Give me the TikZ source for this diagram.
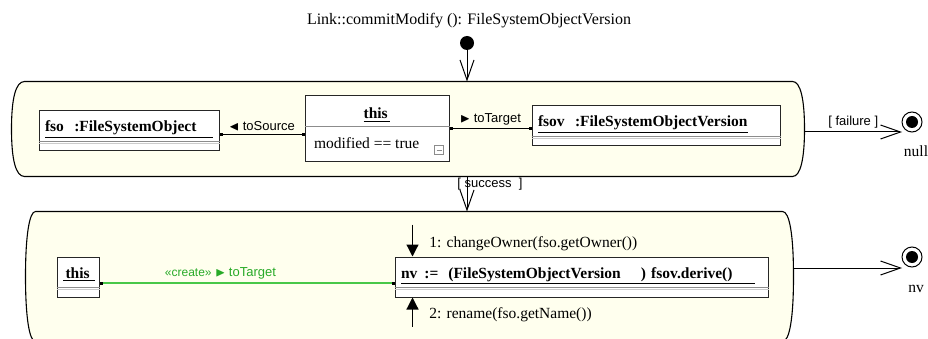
\documentclass[tikz,border=0pt]{standalone}
\usepackage{fontspec}
\setmainfont{Liberation Serif}
\setsansfont{Liberation Sans}
\usepackage{amssymb}
\usepackage{xcolor}
\usepackage{tikz}
\usetikzlibrary{shapes,arrows.meta,positioning,calc}

\definecolor{actfill}{RGB}{255,255,238}
\definecolor{createline}{RGB}{72,200,72}
\definecolor{createtext}{RGB}{40,170,40}

\begin{document}
\begin{tikzpicture}[x=1pt, y=-1pt, line width=1pt, font=\fontsize{15.5}{18}\selectfont]
    % Define styles
    \tikzstyle{activity} = [rectangle, draw=none, inner sep=0pt]
    \tikzstyle{actline} = [draw=black, fill=actfill, line width=1.1pt]
    \tikzstyle{object} = [rectangle, draw=black!85, fill=white, inner xsep=6pt, inner ysep=0pt, text height=21pt, text depth=19pt, align=left]
    \tikzstyle{sepline} = [draw=black!45, line width=0.8pt]
    \tikzstyle{link} = [draw=black, {Square[length=3pt,width=3pt]}-{Square[length=3pt,width=3pt]}]
    \tikzstyle{createlink} = [draw=createline, line width=1.2pt, {Square[length=3pt,width=3pt,color=black]}-{Square[length=3pt,width=3pt,color=black]}]
    \tikzstyle{trans} = [draw=black, -{Straight Barb[length=20pt,width=14pt]}]
    \tikzstyle{msg} = [draw=black, line width=1.2pt, -{Triangle[length=12pt,width=12pt]}]
    \tikzstyle{lbl} = [font=\sffamily\fontsize{13}{15}\selectfont]
    \tikzstyle{final} = [circle, draw=black, fill=white, minimum size=20pt, inner sep=0pt, path picture={\fill[black] (path picture bounding box.center) circle (6pt);}]

    \clip (0,0) rectangle (928,339);

    % Activities
    \node[activity, minimum width=792pt, minimum height=94pt] (act1) at (408,129) {};
    \node[activity, minimum width=767pt, minimum height=129pt] (act2) at (409.5,276.5) {};
    \draw[actline] ($(act1.north west)+(13,0)$) -- ($(act1.north east)+(-12,0)$)
        .. controls ($(act1.north east)+(-4,0)$) and ($(act1.east)+(0,-30)$) .. (act1.east)
        .. controls ($(act1.east)+(0,30)$) and ($(act1.south east)+(-4,0)$) .. ($(act1.south east)+(-12,0)$)
        -- ($(act1.south west)+(13,0)$)
        .. controls ($(act1.south west)+(4,0)$) and ($(act1.west)+(0,30)$) .. (act1.west)
        .. controls ($(act1.west)+(0,-30)$) and ($(act1.north west)+(4,0)$) .. cycle;
    \draw[actline] ($(act2.north west)+(10,0)$) -- ($(act2.north east)+(-11,0)$)
        .. controls ($(act2.north east)+(-4,0)$) and ($(act2.east)+(0,-42)$) .. (act2.east)
        .. controls ($(act2.east)+(0,42)$) and ($(act2.south east)+(-4,0)$) .. ($(act2.south east)+(-11,0)$)
        -- ($(act2.south west)+(10,0)$)
        .. controls ($(act2.south west)+(4,0)$) and ($(act2.west)+(0,42)$) .. (act2.west)
        .. controls ($(act2.west)+(0,-42)$) and ($(act2.north west)+(4,0)$) .. cycle;

    % Nodes
    \node[anchor=base, font=\fontsize{16}{18}\selectfont] (title) at (469,25) {Link::commitModify (): FileSystemObjectVersion};
    \node[circle, fill=black, minimum size=14pt, inner sep=0pt] (start) at (467,43) {};
    \node[object, text width=168pt] (fso) at (129,131) {\underline{\textbf{fso\ \ :FileSystemObject}\hspace{16pt}}};
    \node[object, minimum width=144pt, text height=23pt, text depth=43pt, align=center] (thisA) at (377,129) {\underline{\textbf{this\,}}};
    \node[anchor=base west, inner sep=0pt] (cond) at ([xshift=9pt,yshift=14pt]thisA.south west) {modified == true};
    \node[object, text width=236pt] (fsov) at (656,126) {\underline{\textbf{fsov\ \ :FileSystemObjectVersion}}};
    \node[final] (nullend) at (912,122) {};
    \node[anchor=base] (nulltxt) at ([xshift=4pt,yshift=-35pt]nullend.center) {null};
    \node[object, text width=30pt] (this2) at (78,277) {\underline{\textbf{\,this\ }}};
    \node[object, text width=361pt] (nvbox) at (581.5,277) {\underline{\textbf{nv\hspace{7pt}:=\hspace{10pt}(FileSystemObjectVersion\hspace{20pt})\ fsov.derive()}\hspace{22pt}}};
    \node[final] (nvend) at (912,257) {};
    \node[anchor=base] (nvtxt) at ([xshift=4pt,yshift=-35pt]nvend.center) {nv};
    \coordinate (nullin) at ([xshift=-10pt,yshift=-10pt]nullend.center);
    \coordinate (nvin) at ([xshift=-10pt,yshift=-11pt]nvend.center);
    \coordinate (m1) at ([xshift=18pt,yshift=32pt]nvbox.north west);
    \coordinate (m2) at ([xshift=18pt,yshift=-29pt]nvbox.south west);

    % Compartments
    \foreach \b in {fso,fsov,this2,nvbox} {
        \draw[sepline] ([yshift=10pt]\b.south west) -- ([yshift=10pt]\b.south east);
        \draw[sepline, draw=black!20] ([yshift=8pt]\b.south west) -- ([yshift=8pt]\b.south east);
    }
    \draw[sepline] ([yshift=-31pt]thisA.north west) -- ([yshift=-31pt]thisA.north east);
    \draw[black!45, line width=0.8pt] ([xshift=-15pt,yshift=8pt]thisA.south east) rectangle +(9,-9);
    \draw[black!45, line width=0.8pt] ([xshift=-13pt,yshift=12.5pt]thisA.south east) -- +(5,0);

    % Connections
    \draw[link] ([yshift=-4pt]fso.east) -- node[lbl, above] {$\blacktriangleleft$ toSource} ([yshift=-4pt]fso.east -| thisA.west);
    \draw[link] (thisA.east) -- node[lbl, above] {$\blacktriangleright$ toTarget} (thisA.east -| fsov.west);
    \draw[createlink] ([yshift=-6pt]this2.east) -- node[lbl, above, pos=0.41, text=createtext] {{\fontsize{12}{14}\selectfont «create»} $\blacktriangleright$ toTarget} ([yshift=-6pt]nvbox.west);
    \draw[msg] (m1) -- node[pos=0.72, anchor=base west, xshift=13pt] {1: changeOwner(fso.getOwner())} (m1 |- nvbox.north);
    \draw[msg] (m2) -- node[pos=0.28, anchor=base west, xshift=13pt] {2: rename(fso.getName())} (m2 |- nvbox.south);
    \draw[trans] (start) -- (start |- act1.north);
    \draw[trans] (start |- act1.south) -- node[lbl, pos=0.22, xshift=23pt] {[\ success\ \ ]} (start |- act2.north);
    \draw[trans] ([yshift=-3pt]act1.east) -- node[lbl, above] {[\ failure\ ]} (nullin);
    \draw[trans] ([yshift=8.5pt]act2.east) -- (nvin);
\end{tikzpicture}
\end{document}
